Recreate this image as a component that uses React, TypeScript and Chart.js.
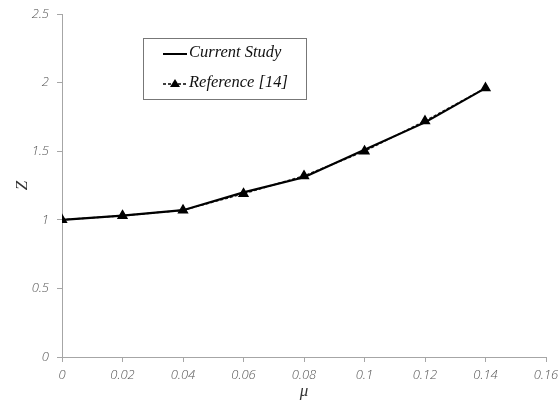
import React, { useEffect, useRef } from "react";
import { Chart, registerables } from "chart.js";

Chart.register(...registerables);

// μ values and the two Z series
const muValues = [0, 0.02, 0.04, 0.06, 0.08, 0.1, 0.12, 0.14];
const currentStudy = [1.0, 1.03, 1.07, 1.2, 1.31, 1.51, 1.71, 1.96];
const reference14 = [1.0, 1.03, 1.07, 1.19, 1.32, 1.5, 1.72, 1.96];
const seriesNames = ["Current Study", "Reference [14]"];

const tickFont = { family: "'Open Sans', 'DejaVu Sans', sans-serif", size: 13, style: "italic" as const, weight: "300" };
const serifItalic = "'Liberation Serif', 'DejaVu Serif', serif";
const axisGray = "#a6a6a6";
const labelGray = "#555";

const fmt = (v: any) => String(Math.round(Number(v) * 100) / 100);

// Boxed legend drawn inside the plot area
const boxedLegend = {
  id: "boxedLegend",
  afterDraw(chart: any) {
    const { ctx } = chart;
    const x0 = 143, y0 = 38, w = 163, h = 61;
    ctx.save();
    ctx.strokeStyle = "#777";
    ctx.lineWidth = 1;
    ctx.strokeRect(x0 + 0.5, y0 + 0.5, w, h);

    // solid sample
    ctx.strokeStyle = "#000";
    ctx.lineWidth = 2;
    ctx.setLineDash([]);
    ctx.beginPath();
    ctx.moveTo(163, 54);
    ctx.lineTo(187, 54);
    ctx.stroke();

    // dashed sample with triangle
    ctx.lineWidth = 1.5;
    ctx.setLineDash([3, 2]);
    ctx.beginPath();
    ctx.moveTo(163, 84);
    ctx.lineTo(187, 84);
    ctx.stroke();
    ctx.setLineDash([]);
    ctx.fillStyle = "#000";
    ctx.beginPath();
    ctx.moveTo(175, 79);
    ctx.lineTo(180, 87);
    ctx.lineTo(170, 87);
    ctx.closePath();
    ctx.fill();

    ctx.font = `italic 16.5px ${serifItalic}`;
    ctx.fillStyle = "#111";
    ctx.textBaseline = "middle";
    ctx.textAlign = "left";
    ctx.fillText(seriesNames[0], 189, 53);
    ctx.fillText(seriesNames[1], 189, 83);
    ctx.restore();
  },
};

export default function App() {
  const canvasRef = useRef<HTMLCanvasElement | null>(null);

  useEffect(() => {
    const canvas = canvasRef.current;
    if (!canvas) return;
    const chart = new Chart(canvas, {
      type: "line",
      data: {
        datasets: [
          {
            label: seriesNames[0],
            data: muValues.map((m, i) => ({ x: m, y: currentStudy[i] })),
            borderColor: "#000",
            borderWidth: 2.2,
            pointRadius: 0,
            fill: false,
            tension: 0,
          },
          {
            label: seriesNames[1],
            data: muValues.map((m, i) => ({ x: m, y: reference14[i] })),
            borderColor: "#222",
            borderWidth: 1.5,
            borderDash: [3, 2],
            pointStyle: "triangle",
            pointRadius: 5,
            pointBackgroundColor: "#000",
            pointBorderColor: "#000",
            fill: false,
            tension: 0,
          },
        ],
      },
      options: {
        animation: false,
        responsive: false,
        devicePixelRatio: 1,
        layout: { padding: { top: 14, right: 14, left: 0, bottom: 0 } },
        plugins: { legend: { display: false }, tooltip: { enabled: false } },
        scales: {
          x: {
            type: "linear",
            min: 0,
            max: 0.16,
            ticks: {
              stepSize: 0.02,
              color: labelGray,
              font: tickFont,
              padding: 5,
              callback: fmt,
            },
            grid: { drawOnChartArea: false, drawTicks: true, tickLength: 5, color: axisGray },
            border: { color: axisGray, width: 1 },
            title: {
              display: true,
              text: "μ",
              color: "#333",
              font: { family: serifItalic, size: 17, style: "italic" },
              padding: { top: 0, bottom: 0 },
            },
            afterFit: (s: any) => {
              s.height = 45;
              s.paddingLeft = 0;
              s.paddingRight = 0;
            },
          },
          y: {
            type: "linear",
            min: 0,
            max: 2.5,
            ticks: {
              stepSize: 0.5,
              color: labelGray,
              font: tickFont,
              padding: 8,
              callback: fmt,
            },
            grid: { drawOnChartArea: false, drawTicks: true, tickLength: 5, color: axisGray },
            border: { color: axisGray, width: 1 },
            title: {
              display: true,
              text: "Z",
              color: "#333",
              font: { family: serifItalic, size: 17, style: "italic" },
              padding: { top: 12, bottom: 0 },
            },
            afterFit: (s: any) => {
              s.width = 62;
              s.paddingTop = 0;
              s.paddingBottom = 0;
            },
          },
        },
      },
      plugins: [boxedLegend],
    });
    return () => chart.destroy();
  }, []);

  return (
    <div style={{ position: "absolute", left: 0, top: 0, width: 560, height: 402, background: "#fff" }}>
      <canvas ref={canvasRef} width={560} height={402} style={{ display: "block" }} />
    </div>
  );
}
